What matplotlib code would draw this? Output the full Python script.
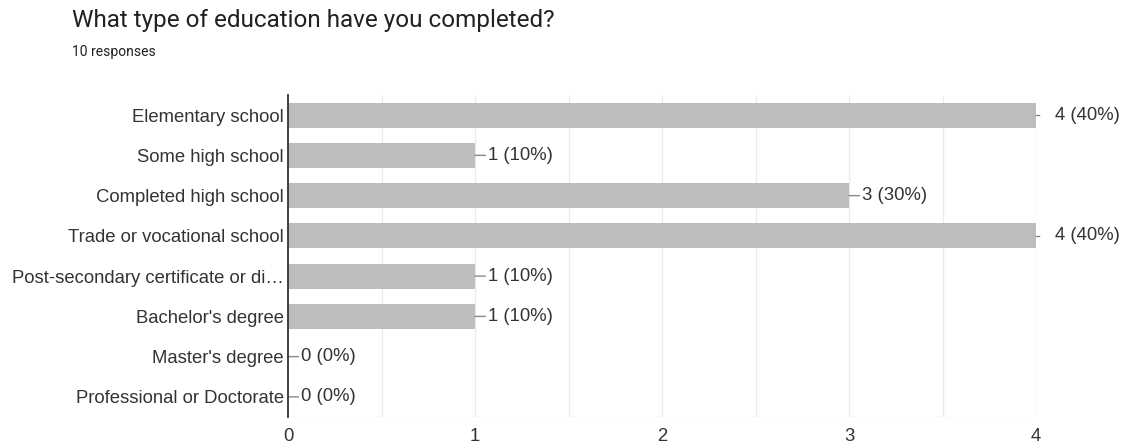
import matplotlib.pyplot as plt

# survey answers, top to bottom
categories = ["Elementary school", "Some high school", "Completed high school",
              "Trade or vocational school", "Post-secondary certificate or di\u2026",
              "Bachelor's degree", "Master's degree", "Professional or Doctorate"]
counts = [4, 1, 3, 4, 1, 1, 0, 0]
total = 10
xticks = [0, 1, 2, 3, 4]

plt.rcParams['font.family'] = ['Liberation Sans', 'DejaVu Sans']
txt = '#333333'
fs = 13.3

fig = plt.figure(figsize=(11.31, 4.48), dpi=100)
ax = fig.add_axes([288/1131, 1-417/448, (1036-288)/1131, (417-95)/448])

ypos = list(range(len(categories)))
ax.barh(ypos, counts, height=0.62, color='#bdbdbd', zorder=2)
ax.set_ylim(len(categories)-0.5, -0.5)
ax.set_xlim(0, 4)

# grid every half unit
for g in [0.5, 1, 1.5, 2, 2.5, 3, 3.5, 4]:
    ax.axvline(g, color='#ebebeb', lw=1, zorder=0)
ax.axhline(len(categories)-0.5, color='#ebebeb', lw=1, zorder=0)

for sp in ['top', 'right', 'bottom']:
    ax.spines[sp].set_visible(False)
ax.spines['left'].set_color('#333333')
ax.spines['left'].set_linewidth(1.3)
ax.spines['left'].set_zorder(3)

ax.set_yticks(ypos)
ax.set_yticklabels(categories, fontsize=fs, color=txt)
ax.set_xticks(xticks)
ax.set_xticklabels([str(t) for t in xticks], fontsize=fs, color=txt)
ax.tick_params(axis='both', length=0)
ax.tick_params(axis='y', pad=3)
ax.tick_params(axis='x', pad=8)

# value labels with a short leader line
for y, c in zip(ypos, counts):
    label = f"{c} ({c*100//total}%)"
    if c >= 4:
        ax.plot([c, c+0.015], [y, y], color='#888888', lw=1, clip_on=False, zorder=3)
        ax.annotate(label, (c, y), xytext=(14, 0), textcoords='offset points',
                    va='center', ha='left', fontsize=fs, color=txt)
    else:
        ax.annotate(label, (c, y), xytext=(9.5, 0), textcoords='offset points',
                    va='center', ha='left', fontsize=fs, color=txt,
                    arrowprops=dict(arrowstyle='-', color='#888888', lw=1,
                                    shrinkA=0, shrinkB=0))

fig.text(72/1131, 1-20/448, "What type of education have you completed?",
         fontsize=17.5, color='#202124', va='center', ha='left', family='Roboto')
fig.text(72/1131, 1-52/448, "10 responses", fontsize=10, color='#202124',
         va='center', ha='left', family='Roboto')

fig.savefig('out.png', dpi=100, facecolor='white')
